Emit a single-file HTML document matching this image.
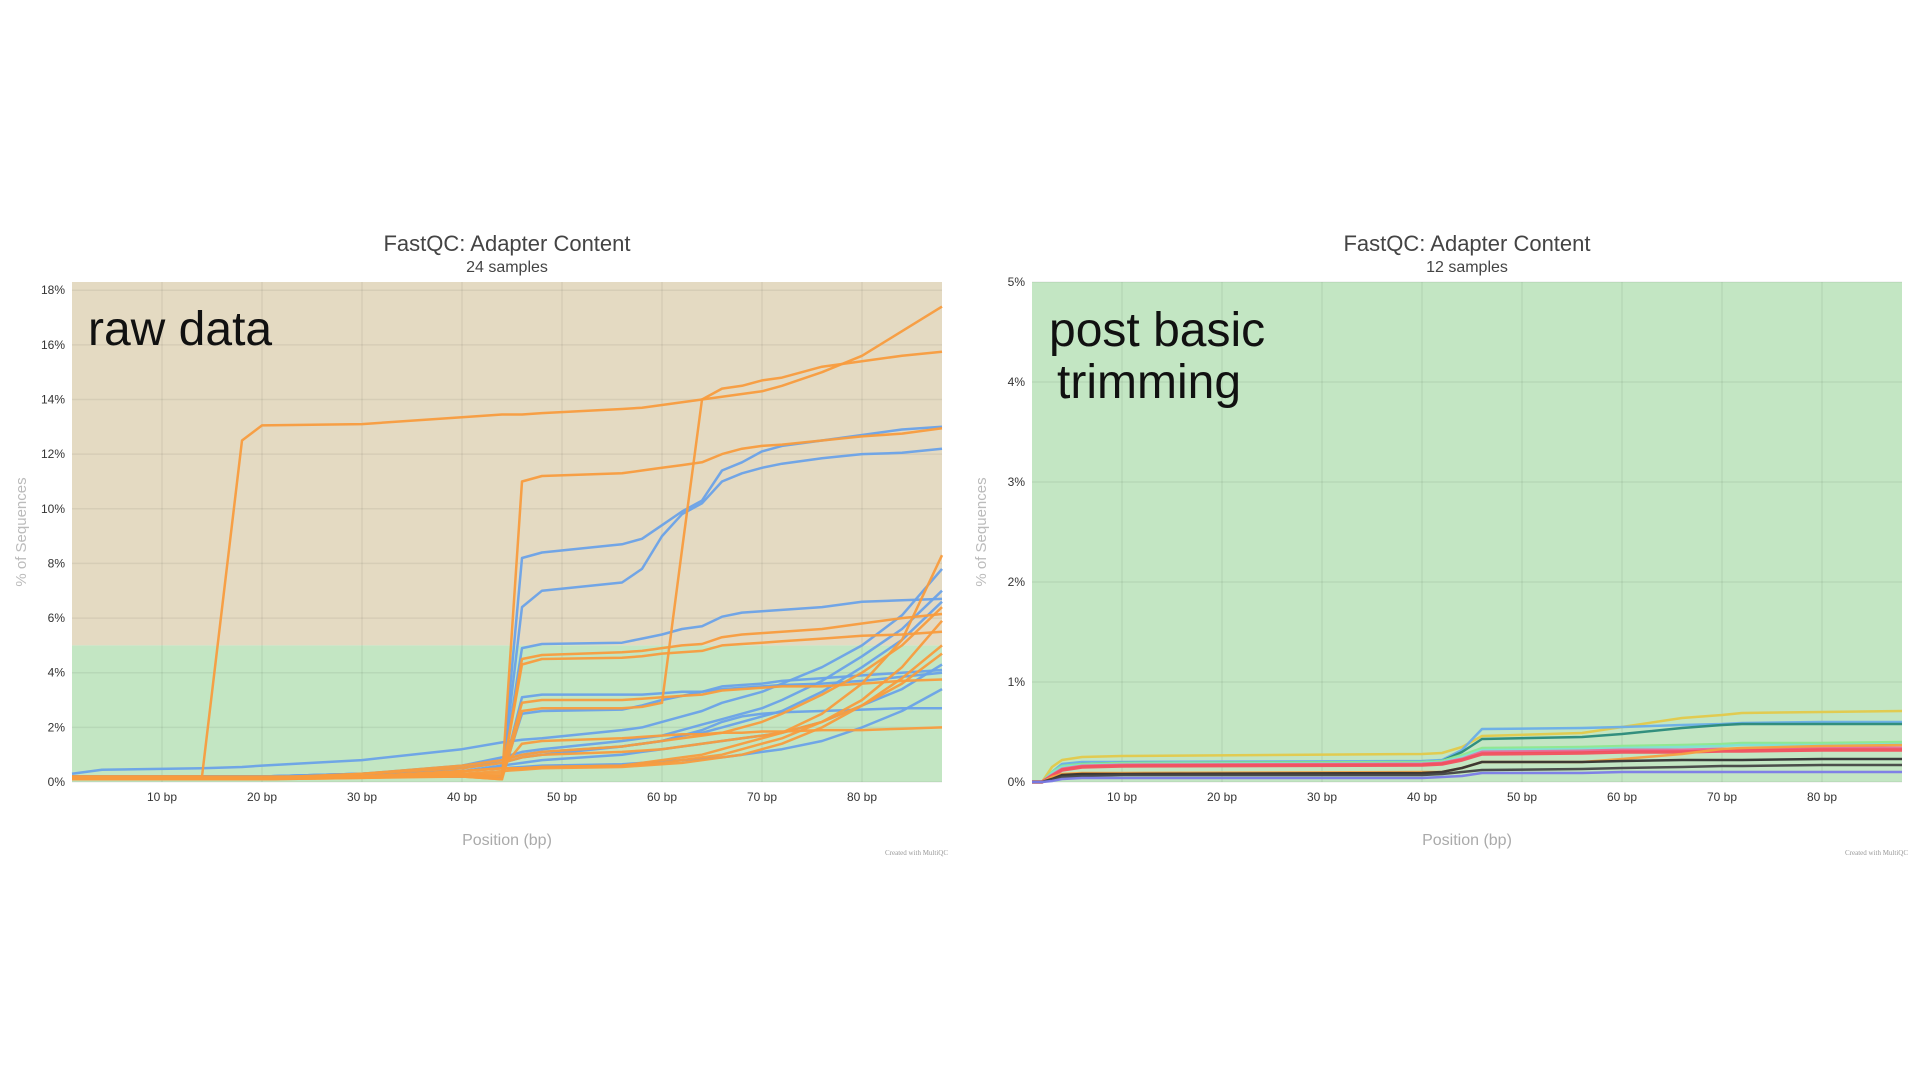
<!DOCTYPE html>
<html><head><meta charset="utf-8">
<style>
html,body{margin:0;padding:0;background:#fff;width:1920px;height:1080px;overflow:hidden;font-family:"Liberation Sans",sans-serif;}
svg{position:absolute;left:0;top:0;}
</style></head>
<body>
<svg id="c" width="1920" height="1080"></svg>
<script>
// ---------- Left chart data (raw data, 24 samples) ----------
const rawPositions = [1,4,14,18,20,30,40,44,46,48,56,58,60,62,64,66,68,70,72,76,80,84,88];
const rawOrange = [
 [0.2,0.2,0.2,12.5,13.05,13.1,13.35,13.45,13.45,13.5,13.65,13.7,13.8,13.9,14.0,14.1,14.2,14.3,14.5,15.0,15.6,16.5,17.4],
 [0.1,0.1,0.1,0.1,0.1,0.15,0.2,0.1,2.6,2.7,2.7,2.75,2.9,8.5,14.0,14.4,14.5,14.7,14.8,15.2,15.4,15.6,15.75],
 [0.2,0.2,0.2,0.2,0.2,0.2,0.2,0.1,11.0,11.2,11.3,11.4,11.5,11.6,11.7,12.0,12.2,12.3,12.35,12.5,12.65,12.75,12.95],
 [0.15,0.15,0.15,0.15,0.15,0.2,0.3,0.2,4.5,4.65,4.75,4.8,4.9,5.0,5.05,5.3,5.4,5.45,5.5,5.6,5.8,6.0,6.15],
 [0.1,0.1,0.1,0.1,0.1,0.15,0.25,0.2,4.3,4.5,4.55,4.6,4.7,4.75,4.8,5.0,5.05,5.1,5.15,5.25,5.35,5.4,5.5],
 [0.1,0.1,0.1,0.1,0.1,0.2,0.3,0.3,2.9,3.0,3.0,3.05,3.1,3.15,3.2,3.35,3.4,3.45,3.5,3.5,3.6,3.7,3.75],
 [0.1,0.1,0.1,0.1,0.1,0.2,0.4,0.5,0.5,0.55,0.6,0.7,0.8,0.9,1.0,1.2,1.4,1.6,1.8,2.5,3.6,5.2,8.3],
 [0.1,0.1,0.1,0.1,0.15,0.3,0.6,0.8,1.0,1.1,1.3,1.4,1.5,1.6,1.7,1.8,2.0,2.2,2.5,3.2,4.0,5.0,6.4],
 [0.1,0.1,0.1,0.1,0.1,0.2,0.4,0.5,0.5,0.55,0.6,0.65,0.7,0.8,0.9,1.0,1.2,1.4,1.6,2.2,3.0,4.2,5.9],
 [0.1,0.1,0.1,0.1,0.1,0.2,0.3,0.4,0.45,0.5,0.55,0.6,0.65,0.7,0.8,0.9,1.0,1.2,1.4,2.0,2.8,3.8,5.0],
 [0.1,0.1,0.1,0.1,0.1,0.3,0.5,0.7,0.9,1.0,1.1,1.15,1.2,1.3,1.4,1.5,1.6,1.7,1.8,2.2,2.8,3.6,4.7],
 [0.1,0.1,0.1,0.1,0.1,0.2,0.4,0.5,1.4,1.5,1.6,1.65,1.7,1.75,1.75,1.8,1.8,1.85,1.85,1.9,1.9,1.95,2.0]
];
const rawBlue = [
 [0.2,0.2,0.2,0.2,0.2,0.2,0.2,0.2,8.2,8.4,8.7,8.9,9.4,9.9,10.3,11.4,11.7,12.1,12.3,12.5,12.7,12.9,13.0],
 [0.2,0.2,0.2,0.2,0.2,0.2,0.2,0.2,6.4,7.0,7.3,7.8,9.0,9.8,10.2,11.0,11.3,11.5,11.65,11.85,12.0,12.05,12.2],
 [0.2,0.2,0.2,0.2,0.2,0.2,0.2,0.2,4.9,5.05,5.1,5.25,5.4,5.6,5.7,6.05,6.2,6.25,6.3,6.4,6.6,6.65,6.7],
 [0.2,0.2,0.2,0.2,0.2,0.2,0.2,0.2,3.1,3.2,3.2,3.2,3.25,3.3,3.3,3.5,3.55,3.6,3.7,3.8,3.9,4.0,4.1],
 [0.2,0.2,0.2,0.2,0.2,0.2,0.2,0.2,2.5,2.6,2.65,2.8,3.0,3.15,3.3,3.4,3.45,3.5,3.55,3.6,3.7,3.85,4.0],
 [0.3,0.45,0.5,0.55,0.6,0.8,1.2,1.45,1.55,1.6,1.9,2.0,2.2,2.4,2.6,2.9,3.1,3.3,3.6,4.2,5.0,6.1,7.8],
 [0.2,0.2,0.2,0.2,0.2,0.3,0.5,0.8,1.0,1.1,1.3,1.4,1.5,1.7,1.9,2.2,2.4,2.5,2.55,2.6,2.65,2.7,2.7],
 [0.15,0.2,0.2,0.2,0.2,0.3,0.4,0.5,0.55,0.6,0.65,0.7,0.75,0.8,0.85,0.9,1.0,1.1,1.2,1.5,2.0,2.6,3.4],
 [0.2,0.2,0.2,0.2,0.2,0.3,0.6,0.9,1.1,1.2,1.5,1.6,1.7,1.9,2.1,2.3,2.5,2.7,3.0,3.7,4.6,5.6,7.0],
 [0.2,0.2,0.2,0.2,0.2,0.3,0.5,0.7,0.9,1.0,1.3,1.4,1.5,1.7,1.8,2.0,2.2,2.4,2.6,3.3,4.2,5.2,6.6],
 [0.2,0.2,0.2,0.2,0.2,0.2,0.4,0.6,0.7,0.8,1.0,1.1,1.2,1.3,1.4,1.5,1.6,1.7,1.8,2.2,2.8,3.4,4.3]
];
const rawYTicks = [0,2,4,6,8,10,12,14,16,18];
const xTicks = [10,20,30,40,50,60,70,80];

// ---------- Right chart data (post trimming, 12 samples) ----------
const trimPositions = [1,2,3,4,6,10,40,42,44,46,56,60,66,70,72,80,88];
const trimYellow = [0,0,0.15,0.22,0.25,0.26,0.28,0.29,0.35,0.46,0.49,0.55,0.64,0.67,0.69,0.70,0.71];
const trimLightBlue = [0,0,0.1,0.18,0.2,0.2,0.21,0.22,0.32,0.53,0.54,0.55,0.57,0.58,0.59,0.6,0.6];
const trimTeal = [0,0,0.08,0.15,0.18,0.19,0.2,0.21,0.3,0.43,0.45,0.48,0.54,0.57,0.58,0.58,0.58];
const trimLightGreen = [0,0,0.1,0.16,0.18,0.19,0.2,0.21,0.27,0.34,0.35,0.36,0.37,0.38,0.39,0.39,0.4];
const trimCyan = [0,0,0.09,0.15,0.17,0.18,0.19,0.2,0.25,0.32,0.33,0.34,0.35,0.36,0.37,0.37,0.38];
const trimPink = [0,0,0.07,0.13,0.16,0.17,0.18,0.19,0.23,0.3,0.31,0.32,0.32,0.33,0.33,0.34,0.34];
const trimRed = [0,0,0.06,0.12,0.15,0.16,0.17,0.18,0.22,0.28,0.29,0.3,0.3,0.31,0.31,0.32,0.32];
const trimOrange = [0,0,0.05,0.08,0.09,0.09,0.1,0.1,0.14,0.2,0.2,0.23,0.28,0.33,0.34,0.36,0.37];
const trimBlack = [0,0,0.03,0.07,0.08,0.08,0.09,0.1,0.14,0.2,0.2,0.21,0.22,0.22,0.22,0.23,0.23];
const trimDarkGray = [0,0,0.02,0.05,0.06,0.07,0.07,0.08,0.1,0.12,0.13,0.14,0.15,0.16,0.16,0.17,0.17];
const trimPurple = [0,0,0.01,0.03,0.04,0.04,0.04,0.05,0.06,0.09,0.09,0.1,0.1,0.1,0.1,0.1,0.1];
const trimYTicks = [0,1,2,3,4,5];

const NS = 'http://www.w3.org/2000/svg';
const svg = document.getElementById('c');
function mk(tag, attrs, parent, text){
  const e = document.createElementNS(NS, tag);
  for (const k in attrs) e.setAttribute(k, attrs[k]);
  if (text !== undefined) e.textContent = text;
  (parent || svg).appendChild(e);
  return e;
}

function drawChart(o){
  const g = mk('g', {});
  
  
  const L = o.left, R = o.left + 870, T = 282, B = 782;
  const xs = v => L + (v - 1) / (88 - 1) * (R - L);
  const ys = v => B - v / o.yMax * (B - T);
  if (o.warnFrom < o.yMax) {
    const w = mk('rect', {x:L, y:T, width:R-L, height:ys(o.warnFrom)-T, fill:'#e4dac2'}, g);
    
    
  }
  const ok = mk('rect', {x:L, y:ys(Math.min(o.warnFrom,o.yMax)), width:R-L, height:B-ys(Math.min(o.warnFrom,o.yMax)), fill:'#c3e6c3'}, g);
  
  
  o.yTicks.forEach(t => {
    mk('line', {x1:L, x2:R, y1:ys(t), y2:ys(t), stroke:'rgba(0,0,0,0.06)', 'stroke-width':1.5}, g);
    const lb = mk('text', {x:L-7, y:ys(t)+4, 'text-anchor':'end', 'font-size':12, fill:'#333'}, g, t + '%');
    
    
  });
  xTicks.forEach(t => {
    mk('line', {x1:xs(t), x2:xs(t), y1:T, y2:B, stroke:'rgba(0,0,0,0.06)', 'stroke-width':1.5}, g);
    const lb = mk('text', {x:xs(t), y:B+19, 'text-anchor':'middle', 'font-size':12, fill:'#333'}, g, t + ' bp');
    
    
  });
  o.series.forEach(s => {
    const d = s.values.map((v,i) => (i?'L':'M') + xs(o.positions[i]).toFixed(1) + ',' + ys(v).toFixed(1)).join('');
    const p = mk('path', {d:d, fill:'none', stroke:s.color, 'stroke-width':s.w || 2.5, 'stroke-linejoin':'round', 'stroke-opacity':0.95}, g);
    
    
  });
  const cx = L + (R - L) / 2;
  const t1 = mk('text', {x:cx, y:251, 'text-anchor':'middle', 'font-size':22, fill:'#444'}, g, 'FastQC: Adapter Content');
  
  
  const t2 = mk('text', {x:cx, y:272, 'text-anchor':'middle', 'font-size':16, fill:'#444'}, g, o.subtitle);
  
  
  const xl = mk('text', {x:cx, y:845, 'text-anchor':'middle', 'font-size':16, fill:'#aaa'}, g, 'Position (bp)');
  
  
  const yl = mk('text', {x:0, y:0, 'text-anchor':'middle', 'font-size':15, fill:'#bbb', transform:'translate(' + (L-46) + ',532) rotate(-90)'}, g, '% of Sequences');
  
  
  const cr = mk('text', {x:R+6, y:855, 'text-anchor':'end', 'font-size':7, fill:'#999', 'font-family':'Liberation Serif, serif'}, g, 'Created with MultiQC');
  
  
  o.notes.forEach(n => {
    const a = mk('text', {x:n.x, y:n.y, 'font-size':48, fill:'#111', 'font-weight':300}, g, n.text);
    
    
  });
}

const OR = '#f89c3e', BL = '#6aa2e8';
const leftSeries = [];
rawBlue.forEach((v,i) => leftSeries.push({name:'raw-sample-blue-' + (i+1), values:v, color:BL}));
rawOrange.forEach((v,i) => leftSeries.push({name:'raw-sample-orange-' + (i+1), values:v, color:OR}));
drawChart({name:'raw-data-chart', left:72, yMax:18.3, warnFrom:5, positions:rawPositions, yTicks:rawYTicks, subtitle:'24 samples',
  series:leftSeries, notes:[{text:'raw data', x:88, y:345}]});

drawChart({name:'trimmed-chart', left:1032, yMax:5, warnFrom:5, positions:trimPositions, yTicks:trimYTicks, subtitle:'12 samples',
  series:[
    {name:'trim-sample-yellow', values:trimYellow, color:'#e3c94a'},
    {name:'trim-sample-lightblue', values:trimLightBlue, color:'#6aaee8'},
    {name:'trim-sample-teal', values:trimTeal, color:'#2a8a7a'},
    {name:'trim-sample-lightgreen', values:trimLightGreen, color:'#8ee88e'},
    {name:'trim-sample-cyan', values:trimCyan, color:'#80e0d4'},
    {name:'trim-sample-pink', values:trimPink, color:'#e86a9a', w:3},
    {name:'trim-sample-red', values:trimRed, color:'#f2505e', w:3.5},
    {name:'trim-sample-orange', values:trimOrange, color:'#f4a040'},
    {name:'trim-sample-black', values:trimBlack, color:'#333333'},
    {name:'trim-sample-darkgray', values:trimDarkGray, color:'#444444'},
    {name:'trim-sample-purple', values:trimPurple, color:'#7b7be8'}
  ],
  notes:[{text:'post basic', x:1049, y:346},{text:'trimming', x:1057, y:398}]});
</script>
</body></html>
